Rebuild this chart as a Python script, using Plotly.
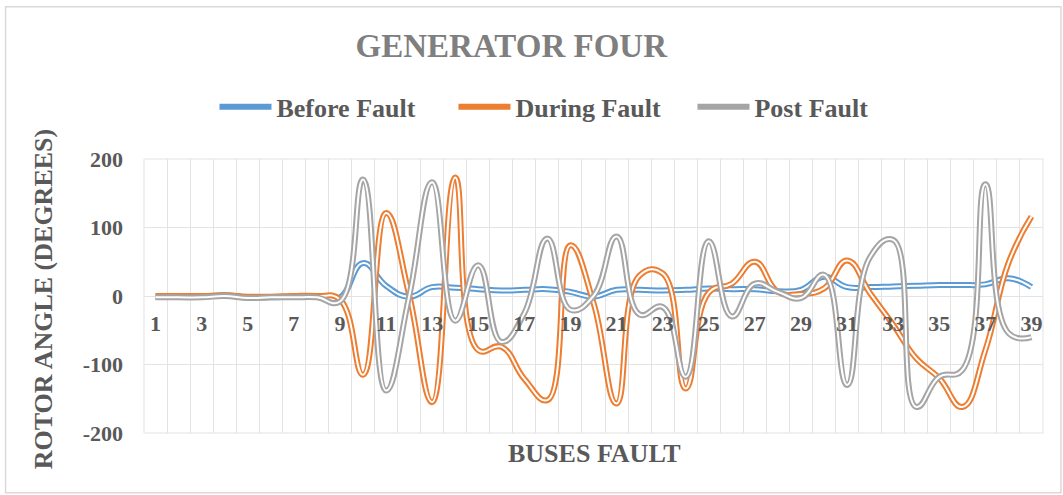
import plotly.graph_objects as go

buses = list(range(1, 40))

before_fault = [-1, -1, -1, 1, -2, -2, -1, -1, -2, 48,
                15, -1, 13, 12, 10, 8, 9, 10, 6, -1,
                9, 9, 8, 9, 11, 10, 10, 7, 9, 28,
                13, 13, 14, 15, 16, 16, 17, 26, 13]

during_fault = [0, 0, 0, 1, -1, -1, 0, 0, -5, -115,
                121, 2, -155, 173, -79, -74, -121, -152, 74, -10,
                -157, 30, 33, -135, 5, 18, 50, 6, 3, 11,
                52, 4, -42, -91, -120, -162, -79, 48, 116]

post_fault = [-2, -2, -2, 0, -3, -2, -2, -2, -8, 170,
              -138, -1, 166, -36, 45, -67, -25, 84, -20, 0,
              87, -27, -16, -118, 80, -30, 18, 6, -3, 31,
              -130, 57, 82, -162, -118, -108, 163, -54, -60]

series_names = ["Before Fault", "During Fault", "Post Fault"]
series_values = [before_fault, during_fault, post_fault]
series_colors = ["#5B9BD5", "#ED7D31", "#A5A5A5"]

tick_values = list(range(1, 40, 2))
y_ticks = [-200, -100, 0, 100, 200]
y_tick_text = ["-200", "-100", "0", "100", "200"]

FONT = "Liberation Serif"
TXT = "#595959"
GRID = "#e3e3e3"

fig = go.Figure()
for name, vals, col in zip(series_names, series_values, series_colors):
    fig.add_trace(go.Scatter(
        x=buses, y=vals, name=name, mode="lines",
        line=dict(color=col, width=6, shape="spline", smoothing=1.3),
        legendgroup=name, hoverinfo="skip"))
    fig.add_trace(go.Scatter(
        x=buses, y=vals, name=name, mode="lines", showlegend=False,
        line=dict(color="white", width=2, shape="spline", smoothing=1.3),
        legendgroup=name, hoverinfo="skip"))

fig.update_layout(
    width=1063, height=495,
    margin=dict(l=143.5, r=20, t=159.3, b=61.7, pad=0),
    paper_bgcolor="white", plot_bgcolor="white",
    font=dict(family=FONT, color=TXT, size=22),
    showlegend=True,
    legend=dict(orientation="h", x=0.0784, y=1.19, xanchor="left", yanchor="middle",
                font=dict(family=FONT, size=26, color=TXT, weight="bold"),
                itemwidth=52, entrywidth=172, bgcolor="rgba(0,0,0,0)", traceorder="normal"),
    title=dict(text="GENERATOR FOUR", x=0.481, y=1 - 45 / 495, xref="container",
               yref="container", xanchor="center", yanchor="middle",
               font=dict(family=FONT, size=33, color="#7F7F7F", weight="bold")),
    xaxis=dict(range=[0.5, 39.5], tickmode="array", tickvals=tick_values,
               ticktext=[str(v) for v in tick_values],
               anchor="free", position=0.5, showline=False, showgrid=False,
               zeroline=False, ticks="", ticklabelstandoff=12,
               tickfont=dict(family=FONT, size=22, color=TXT, weight="bold"),
               minor=dict(tick0=0.5, dtick=1, showgrid=True, gridcolor=GRID, gridwidth=1, ticks="")),
    yaxis=dict(range=[-200, 200], tickmode="array", tickvals=y_ticks, ticktext=y_tick_text,
               showgrid=True, gridcolor=GRID, gridwidth=1,
               zeroline=True, zerolinecolor=GRID, zerolinewidth=1,
               showline=False, ticks="", ticklabelstandoff=20,
               tickfont=dict(family=FONT, size=22, color=TXT, weight="bold")),
    annotations=[
        dict(text="BUSES FAULT", x=0.5014, y=-0.0745, xref="paper", yref="paper",
             xanchor="center", yanchor="middle", showarrow=False,
             font=dict(family=FONT, size=26, color=TXT, weight="bold")),
        dict(text="ROTOR ANGLE (DEGREES)", x=-0.1117, y=0.4865, xref="paper", yref="paper",
             xanchor="center", yanchor="middle", textangle=-90, showarrow=False,
             font=dict(family=FONT, size=26, color=TXT, weight="bold")),
    ],
    shapes=[
        dict(type="rect", xref="paper", yref="paper", x0=-0.154, x1=1.02, y0=-0.2179, y1=1.5558,
             line=dict(color="#d9d9d9", width=1.5), fillcolor="rgba(0,0,0,0)", layer="below"),
        dict(type="rect", xref="paper", yref="paper", x0=0, x1=1, y0=0, y1=1,
             line=dict(color=GRID, width=1), fillcolor="rgba(0,0,0,0)", layer="below"),
    ],
)

fig.write_html("out.html", config={"displayModeBar": False},
               post_script="document.body.style.margin='0px';")
